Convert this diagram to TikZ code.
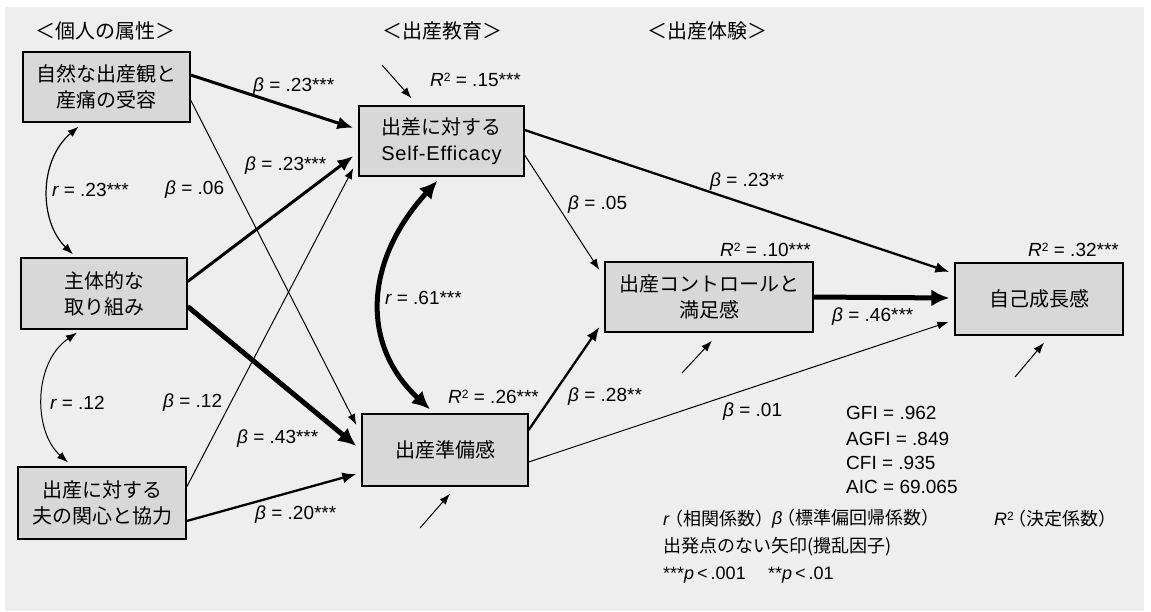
\documentclass[tikz,border=0pt]{standalone}
\usepackage{fontspec}
\setmainfont{Noto Sans CJK JP}
\newfontfamily\lat{Liberation Sans}
\newfontfamily\halfp{Noto Sans CJK JP}[RawFeature=+halt]
\usetikzlibrary{arrows.meta,calc}
\definecolor{bgc}{HTML}{EEEEEE}
\definecolor{boxfill}{HTML}{D8D8D8}
\newcommand{\myb}{{\lat\itshape β}}
\newcommand{\myr}{{\lat\itshape r}}
\newcommand{\myR}{{\lat\itshape R}\raisebox{0.55ex}{\lat\fontsize{12}{12}\selectfont 2}}
\newcommand{\myp}{{\lat\itshape p}}
\newcommand{\mylp}{{\halfp （}}
\newcommand{\myrp}{{\halfp ）}}
\tikzset{
  box/.style={draw, line width=1.3pt, fill=boxfill, inner sep=0pt, align=center,
    font=\fontsize{20}{26}\selectfont},
  lab/.style={anchor=west, inner sep=0pt, font=\lat\fontsize{19}{19}\selectfont},
  hdr/.style={inner sep=0pt, font=\fontsize{20}{20}\selectfont},
  leg/.style={anchor=west, inner sep=0pt, font=\fontsize{18}{18}\selectfont},
  arrA/.style={-{Latex[length=11pt,width=8pt]}, line width=1pt},
  arrM/.style={-{Latex[length=14pt,width=11pt]}, line width=2.3pt},
  arrT/.style={-{Latex[length=16pt,width=13pt]}, line width=3pt},
  arrV/.style={-{Latex[length=18pt,width=17pt]}, line width=5pt},
}
\begin{document}
\begin{tikzpicture}[x=1pt,y=-1pt]
\useasboundingbox (0,0) rectangle (1151,611);
\fill[white] (0,0) rectangle (1151,611);
\fill[bgc] (5,7) rectangle (1144,611);

% headers
\node[hdr] (h1) at (105,31) {＜個人の属性＞};
\node[hdr] (h2) at (442,31) {＜出産教育＞};
\node[hdr] (h3) at (707,31) {＜出産体験＞};

% boxes
\node[box, minimum width=167pt, minimum height=70pt] (A) at (106.5,87) {自然な出産観と\\産痛の受容};
\node[box, minimum width=166pt, minimum height=71pt] (B) at (104,293.5) {主体的な\\取り組み};
\node[box, minimum width=168pt, minimum height=72pt] (C) at (102,503) {出産に対する\\夫の関心と協力};
\node[box, minimum width=165pt, minimum height=70pt] (D) at (441.5,141) {出差に対する\\{\lat\addfontfeature{LetterSpace=4}Self-Efficacy}};
\node[box, minimum width=166pt, minimum height=72pt] (E) at (445,450) {出産準備感};
\node[box, minimum width=208pt, minimum height=70pt] (F) at (709,297) {出産コントロールと\\満足感};
\node[box, minimum width=168pt, minimum height=72pt] (G) at (1039,299) {自己成長感};

% paths
\draw[arrT] ($(A.east)+(0,-12)$) -- ($(D.west)+(-5,-13)$);
\draw[arrT] ($(B.east)+(0,-12)$) -- ($(D.west)+(-5,15)$);
\draw[arrA] ($(A.east)+(0,13)$) -- ($(E.west)+(-5,-25)$);
\draw[arrA] ($(C.east)+(0,-16)$) -- ($(D.west)+(-5,27)$);
\draw[arrV] ($(B.east)+(0,13)$) -- ($(E.west)+(-5,-4)$);
\draw[arrM] ($(C.east)+(0,18)$) -- ($(E.west)+(-5,24)$);
\draw[arrA] ($(D.east)+(0,14)$) -- ($(F.west)+(-5,-27)$);
\draw[arrM] ($(E.east)+(0,-20)$) -- ($(F.west)+(-5,30)$);
\draw[arrA] ($(E.east)+(0,12)$) -- ($(G.west)+(-6,23)$);
\draw[arrM] ($(D.east)+(0,-11)$) -- ($(G.west)+(-5,-27)$);
\draw[arrV] (F.east) -- ($(G.west)+(-5,-1)$);

% correlations
\draw[{Latex[length=11pt,width=8pt]}-{Latex[length=11pt,width=8pt]}, line width=1.2pt]
  ($(A.south)+(-28,4)$) .. controls ($(A.south)+(-68,38)$) and ($(B.north)+(-65,-36)$) .. ($(B.north)+(-31,-3)$);
\draw[{Latex[length=11pt,width=8pt]}-{Latex[length=11pt,width=8pt]}, line width=1pt]
  ($(B.south)+(-27,3)$) .. controls ($(B.south)+(-71,33)$) and ($(C.north)+(-69,-35)$) .. ($(C.north)+(-34,-4)$);
\draw[{Latex[length=18pt,width=17pt]}-{Latex[length=18pt,width=17pt]}, line width=5pt]
  ($(D.south)+(-4,4)$) .. controls ($(D.south)+(-77,84)$) and ($(E.north)+(-85,-69)$) .. ($(E.north)+(-15,-4)$);

% disturbances
\coordinate (eD) at (382,65);
\coordinate (eE) at (420,528);
\coordinate (eF) at (682,373);
\coordinate (eG) at (1015,377);
\draw[arrA] (eD) -- ($(D.north)+(-30,-7)$);
\draw[arrA] (eE) -- ($(E.south)+(5,7)$);
\draw[arrA] (eF) -- ($(F.south)+(3,8)$);
\draw[arrA] (eG) -- ($(G.south)+(5,7)$);

% labels
\node[lab] (l1) at (253,87) {\myb\ = .23***};
\node[lab] (l2) at (245,166) {\myb\ = .23***};
\node[lab] (l3) at (52,190) {\myr\ = .23***};
\node[lab] (l4) at (165,190) {\myb\ = .06};
\node[lab] (l5) at (50,403) {\myr\ = .12};
\node[lab] (l6) at (163,403) {\myb\ = .12};
\node[lab] (l7) at (237,439) {\myb\ = .43***};
\node[lab] (l8) at (255,515) {\myb\ = .20***};
\node[lab] (l9) at (430,80) {\myR\ = .15***};
\node[lab] (l10) at (568,205) {\myb\ = .05};
\node[lab] (l11) at (385,298) {\myr\ = .61***};
\node[lab] (l12) at (448,397) {\myR\ = .26***};
\node[lab] (l13) at (568,397) {\myb\ = .28**};
\node[lab] (l14) at (720,250) {\myR\ = .10***};
\node[lab] (l15) at (710,182) {\myb\ = .23**};
\node[lab] (l16) at (832,317) {\myb\ = .46***};
\node[lab] (l17) at (723,412) {\myb\ = .01};
\node[lab] (l18) at (1028,250) {\myR\ = .32***};

% fit indices
\node[lab] (f1) at (846,413) {GFI = .962};
\node[lab] (f2) at (846,439) {AGFI = .849};
\node[lab] (f3) at (846,463) {CFI = .935};
\node[lab] (f4) at (846,487) {AIC = 69.065};

% legend
\node[leg] (g1) at (663,519) {\myr\hspace{5pt}\mylp 相関係数\myrp};
\node[leg] (g2) at (772,519) {\myb\hspace{4pt}\mylp 標準偏回帰係数\myrp};
\node[leg] (g3) at (994,519) {\myR\hspace{4pt}\mylp 決定係数\myrp};
\node[leg] (g4) at (663,547) {出発点のない矢印(攪乱因子)};
\node[leg] (g5) at (663,575) {{\lat ***}\myp\,{\lat <\,.001}};
\node[leg] (g6) at (768,575) {{\lat **}\myp\,{\lat <\,.01}};
\end{tikzpicture}
\end{document}
